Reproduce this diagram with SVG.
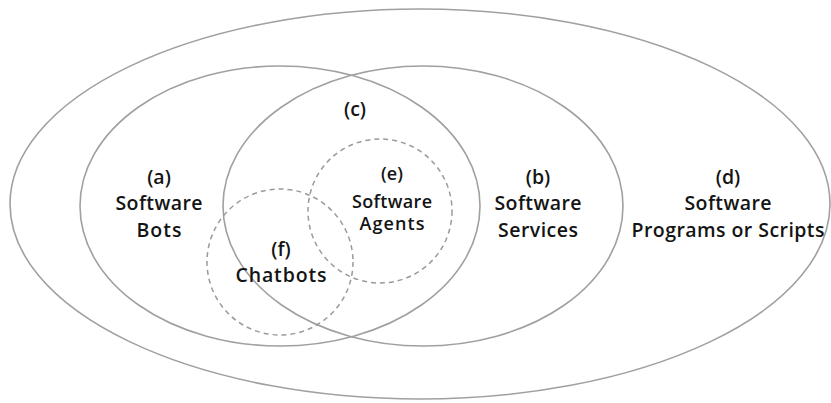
<svg xmlns="http://www.w3.org/2000/svg" width="831" height="403" viewBox="0 0 831 403">
<style>
.sol{fill:none;stroke:#a0a0a0;stroke-width:1.6}
.dash{fill:none;stroke:#9a9a9a;stroke-width:1.5;stroke-dasharray:5 4}
text{font-family:"Open Sans","Noto Sans",sans-serif;font-weight:600;fill:#141414;text-anchor:middle;font-size:19.5px}
.sm{font-size:18px}
</style>
<rect width="831" height="403" fill="#fff"/>
<g id="d">
<ellipse class="sol" cx="420" cy="204" rx="410" ry="195"/>
<text x="728" y="184">(d)</text>
<text x="728" y="210" textLength="87" lengthAdjust="spacing">Software</text>
<text x="728" y="237" textLength="193" lengthAdjust="spacing">Programs or Scripts</text>
</g>
<g id="a">
<ellipse class="sol" cx="280" cy="206" rx="200" ry="140"/>
<text x="159" y="184">(a)</text>
<text x="159" y="210" textLength="87" lengthAdjust="spacing">Software</text>
<text x="159" y="237" textLength="45" lengthAdjust="spacing">Bots</text>
</g>
<g id="b">
<ellipse class="sol" cx="423" cy="206" rx="200" ry="140"/>
<text x="538" y="184">(b)</text>
<text x="538" y="210" textLength="87" lengthAdjust="spacing">Software</text>
<text x="538" y="237" textLength="80" lengthAdjust="spacing">Services</text>
</g>
<g id="c">
<text x="355" y="116">(c)</text>
</g>
<g id="e">
<circle class="dash" cx="380" cy="211" r="72"/>
<text class="sm" x="392" y="180">(e)</text>
<text class="sm" x="392" y="208" textLength="80" lengthAdjust="spacing">Software</text>
<text class="sm" x="392" y="230" textLength="65" lengthAdjust="spacing">Agents</text>
</g>
<g id="f">
<circle class="dash" cx="280" cy="262" r="73"/>
<text x="281" y="256">(f)</text>
<text x="281" y="282" textLength="91" lengthAdjust="spacing">Chatbots</text>
</g>
</svg>
